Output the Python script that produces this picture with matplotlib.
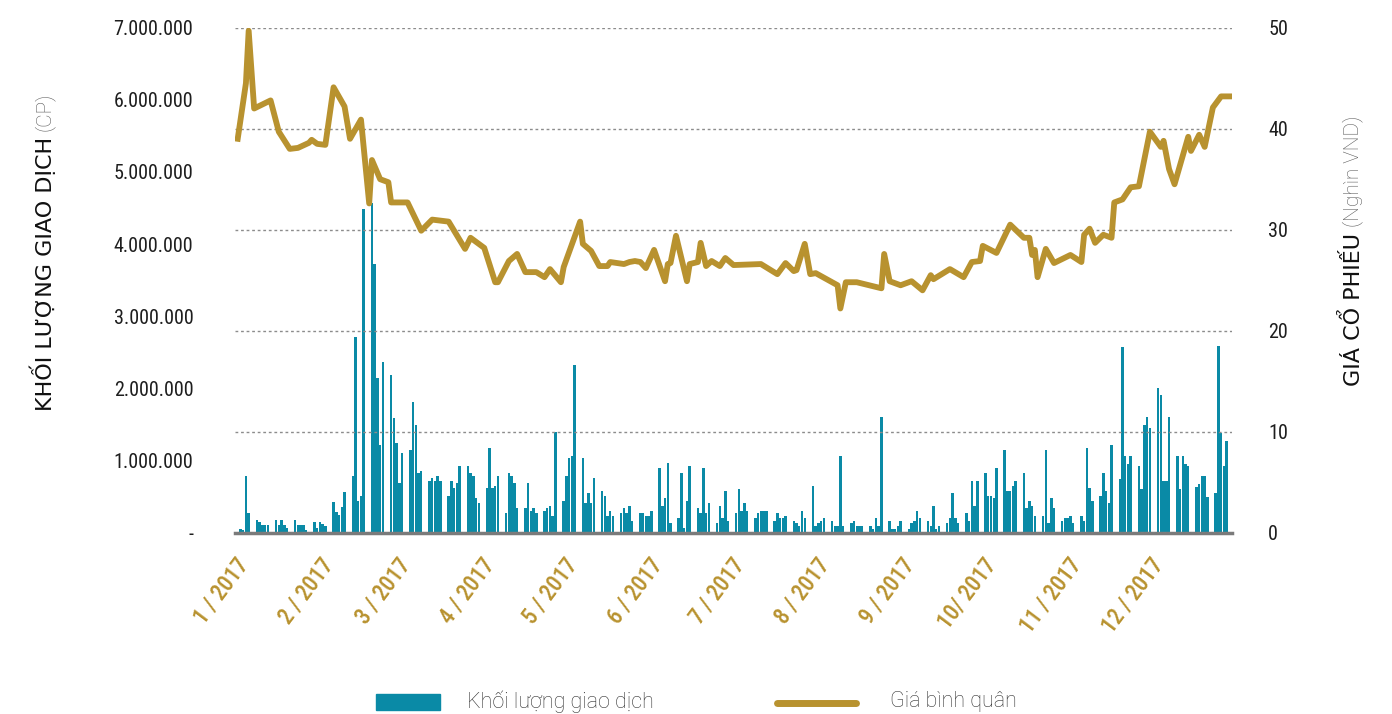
import numpy as np
import pandas as pd
import matplotlib
matplotlib.use('Agg')
import matplotlib.pyplot as plt
from matplotlib.patches import Rectangle
from matplotlib.lines import Line2D
from matplotlib.ticker import FuncFormatter

# Khối lượng giao dịch từng phiên (triệu cp), theo tháng
kl_t1 = [0.05, 0.04, 0.78, 0.28, 0.18, 0.15, 0.11, 0.11, 0.11, 0.18, 0.11, 0.18, 0.11, 0.07, 0.18, 0.11, 0.11, 0.11, 0.04, 0.15, 0.07]
kl_t2 = [0.15, 0.12, 0.09, 0.43, 0.29, 0.25, 0.36, 0.57, 0.79, 2.71, 0.44, 0.51, 4.49, 4.57, 3.72, 2.15, 1.21, 2.36, 2.19, 1.59]
kl_t3 = [1.25, 0.69, 1.10, 1.14, 1.81, 1.49, 0.83, 0.86, 0.72, 0.76, 0.72, 0.79, 0.72, 0.51, 0.72, 0.62, 0.69, 0.93, 0.93, 0.83, 0.79, 0.48, 0.41]
kl_t4 = [0.62, 1.17, 0.62, 0.65, 0.79, 0.27, 0.83, 0.79, 0.69, 0.34, 0.34, 0.69, 0.30, 0.34, 0.27, 0.30, 0.34, 0.37, 0.23, 1.39]
kl_t5 = [0.44, 0.79, 1.04, 1.07, 2.33, 1.04, 0.41, 0.55, 0.41, 0.76, 0.58, 0.51, 0.23, 0.30, 0.23, 0.27, 0.34, 0.27, 0.37, 0.16, 0.27, 0.27, 0.23]
kl_t6 = [0.23, 0.30, 0.90, 0.37, 0.48, 0.97, 0.13, 0.20, 0.83, 0.06, 0.44, 0.93, 0.34, 0.27, 0.90, 0.27, 0.41, 0.13, 0.37, 0.20, 0.58, 0.16]
kl_t7 = [0.27, 0.61, 0.30, 0.41, 0.30, 0.20, 0.27, 0.30, 0.30, 0.30, 0.16, 0.27, 0.20, 0.20, 0.23, 0.16, 0.13, 0.09, 0.30, 0.20, 0.65]
kl_t8 = [0.09, 0.13, 0.16, 0.20, 0.16, 0.09, 0.09, 1.07, 0.09, 0.13, 0.16, 0.09, 0.09, 0.09, 0.09, 0.05, 0.20, 0.09, 1.60, 0.16, 0.05, 0.05, 0.09]
kl_t9 = [0.16, 0.05, 0.13, 0.16, 0.30, 0.20, 0.16, 0.09, 0.37, 0.05, 0.09, 0.13, 0.20, 0.55, 0.20, 0.13, 0.27, 0.16, 0.72, 0.37, 0.72]
kl_t10 = [0.83, 0.51, 0.51, 0.48, 0.90, 1.14, 0.58, 0.58, 0.65, 0.72, 0.83, 0.34, 0.44, 0.37, 0.23, 0.23, 1.14, 0.13, 0.48, 0.34, 0.16, 0.20]
kl_t11 = [0.20, 0.23, 0.13, 0.23, 0.16, 1.17, 0.62, 0.44, 0.51, 0.83, 0.58, 0.41, 1.21, 0.75, 2.57, 1.06, 0.95, 1.06, 0.92, 0.60, 1.49, 1.60]
kl_t12 = [1.45, 2.01, 1.91, 0.71, 0.71, 1.60, 1.06, 0.60, 1.06, 0.95, 0.92, 0.64, 0.67, 0.78, 0.78, 0.50, 0.55, 2.59, 1.38, 0.92, 1.27]

# Giá bình quân (nghìn VND)
ngay_gia = ['2017-01-02', '2017-01-05', '2017-01-06', '2017-01-08', '2017-01-14', '2017-01-17',
            '2017-01-21', '2017-01-24', '2017-01-28', '2017-01-29', '2017-01-31', '2017-02-03',
            '2017-02-06', '2017-02-10', '2017-02-12', '2017-02-16', '2017-02-19', '2017-02-20',
            '2017-02-23', '2017-02-26', '2017-02-27', '2017-03-05', '2017-03-10', '2017-03-14',
            '2017-03-20', '2017-03-26', '2017-03-28', '2017-04-02', '2017-04-06', '2017-04-07',
            '2017-04-11', '2017-04-14', '2017-04-17', '2017-04-21', '2017-04-24', '2017-04-26',
            '2017-04-30', '2017-05-01', '2017-05-07', '2017-05-08', '2017-05-11', '2017-05-14',
            '2017-05-17', '2017-05-18', '2017-05-23', '2017-05-25', '2017-05-27', '2017-05-29',
            '2017-05-31', '2017-06-03', '2017-06-07', '2017-06-08', '2017-06-09', '2017-06-11',
            '2017-06-15', '2017-06-16', '2017-06-19', '2017-06-20', '2017-06-22', '2017-06-24',
            '2017-06-27', '2017-06-29', '2017-07-02', '2017-07-12', '2017-07-18', '2017-07-21',
            '2017-07-24', '2017-07-25', '2017-07-28', '2017-07-30', '2017-08-01', '2017-08-09',
            '2017-08-10', '2017-08-12', '2017-08-16', '2017-08-25', '2017-08-26', '2017-08-28',
            '2017-09-01', '2017-09-05', '2017-09-09', '2017-09-12', '2017-09-13', '2017-09-19',
            '2017-09-24', '2017-09-27', '2017-09-30', '2017-10-01', '2017-10-06', '2017-10-11',
            '2017-10-16', '2017-10-18', '2017-10-19', '2017-10-20', '2017-10-21', '2017-10-24',
            '2017-10-27', '2017-11-02', '2017-11-06', '2017-11-07', '2017-11-09', '2017-11-11',
            '2017-11-14', '2017-11-17', '2017-11-18', '2017-11-21', '2017-11-24', '2017-11-27',
            '2017-12-01', '2017-12-05', '2017-12-06', '2017-12-08', '2017-12-10', '2017-12-15',
            '2017-12-16', '2017-12-19', '2017-12-21', '2017-12-24', '2017-12-27', '2017-12-30']
gia = [39.0, 44.5, 49.7, 42.0, 42.8, 39.7,
       38.0, 38.1, 38.6, 38.9, 38.5, 38.4,
       44.1, 42.2, 39.0, 40.9, 32.6, 36.9,
       35.0, 34.7, 32.7, 32.7, 29.9, 31.0,
       30.8, 28.1, 29.2, 28.2, 24.8, 24.8,
       26.9, 27.6, 25.8, 25.8, 25.3, 26.1,
       24.8, 26.3, 30.8, 28.6, 27.9, 26.4,
       26.4, 26.8, 26.6, 26.8, 26.9, 26.8,
       26.2, 28.0, 24.9, 26.6, 26.7, 29.4,
       24.9, 26.6, 26.8, 28.7, 26.4, 26.9,
       26.4, 27.2, 26.5, 26.6, 25.6, 26.7,
       25.9, 26.0, 28.6, 25.6, 25.7, 24.5,
       22.2, 24.8, 24.8, 24.2, 27.6, 24.9,
       24.5, 24.9, 24.0, 25.5, 25.1, 26.1,
       25.3, 26.8, 26.9, 28.4, 27.7, 30.5,
       29.2, 29.2, 27.5, 28.0, 25.3, 28.1,
       26.7, 27.5, 26.8, 29.5, 30.1, 28.7,
       29.5, 29.2, 32.7, 33.0, 34.2, 34.3,
       39.7, 38.2, 38.8, 36.0, 34.5, 39.2,
       37.8, 39.4, 38.2, 42.1, 43.2, 43.2]

thang = ['1 / 2017', '2 / 2017', '3 / 2017', '4 / 2017', '5 / 2017', '6 / 2017',
         '7 / 2017', '8 / 2017', '9 / 2017', '10/ 2017', '11 / 2017', '12 / 2017']

XANH = '#0A8AA6'
VANG = '#B8922F'
HEP = ['Roboto Condensed', 'Roboto', 'DejaVu Sans']

phien = pd.bdate_range('2017-01-03', '2017-12-29')
kl = np.concatenate([kl_t1, kl_t2, kl_t3, kl_t4, kl_t5, kl_t6,
                     kl_t7, kl_t8, kl_t9, kl_t10, kl_t11, kl_t12]) * 1e6
ngay = pd.to_datetime(ngay_gia)

fig = plt.figure(figsize=(13.92, 7.14), dpi=100)
ax = fig.add_axes([0.1688, 0.2539, 0.7163, 0.7073])
ax2 = ax.twinx()

ax.bar(phien, kl, width=0.9, color=XANH, zorder=2)
ax2.plot(ngay, gia, color=VANG, lw=4.2, zorder=3)

ax.set_xlim(pd.Timestamp('2017-01-01'), pd.Timestamp('2017-12-31'))
ax.set_ylim(0, 7e6)
ax2.set_ylim(0, 50)

ax.set_yticks(np.arange(0, 7e6 + 1, 1e6))
ax.yaxis.set_major_formatter(FuncFormatter(
    lambda v, p: '-' if v == 0 else f'{int(v):,}'.replace(',', '.')))
ax2.set_yticks(np.arange(0, 51, 10))

ax.set_xticks(pd.date_range('2017-01-01', periods=12, freq='MS'))
ax.set_xticklabels(thang, rotation=53, ha='right', rotation_mode='anchor',
                   color=VANG, fontsize=16.5, fontweight='medium', family=HEP)
ax.tick_params(axis='x', length=0, pad=15)
ax.tick_params(axis='y', length=0, pad=30, labelsize=14.5, labelcolor='#1e1e1e')
ax2.tick_params(axis='y', length=0, pad=26, labelsize=14.5, labelcolor='#1e1e1e')
for t in ax.get_yticklabels() + ax2.get_yticklabels():
    t.set_family(HEP)

ax2.yaxis.grid(True, linestyle=(0, (2, 2)), color='#8c8c8c', lw=1)
for a in (ax, ax2):
    for s in a.spines.values():
        s.set_visible(False)
ax.spines['bottom'].set_visible(True)
ax.spines['bottom'].set_color('#7a7a7a')
ax.spines['bottom'].set_linewidth(2.5)

# tiêu đề trục
W, H = 1392, 714
t1 = fig.text(43 / W, (H - 411) / H, 'KHỐI LƯỢNG GIAO DỊCH', rotation=90,
              ha='center', va='bottom', fontsize=16, color='#111111')
t2 = fig.text(1352 / W, (H - 386) / H, 'GIÁ CỔ PHIẾU', rotation=90,
              ha='center', va='bottom', fontsize=16, color='#111111')
fig.canvas.draw()
for t, phu in ((t1, '(CP)'), (t2, '(Nghìn VND)')):
    bb = t.get_window_extent()
    fig.text(t.get_position()[0] + 1 / W, (bb.y1 + 6) / H, phu, rotation=90,
             ha='center', va='bottom', fontsize=15, color='#5a5a5a',
             family=['Roboto', 'DejaVu Sans'], fontweight='light')

# chú thích
fig.add_artist(Rectangle((376 / W, (H - 710) / H), 64 / W, 16 / H,
                         transform=fig.transFigure, color=XANH))
fig.text(467 / W, (H - 702) / H, 'Khối lượng giao dịch', va='center',
         fontsize=15.5, color='#333333', family=['Roboto', 'DejaVu Sans'],
         fontweight='light')
fig.add_artist(Line2D([777 / W, 856 / W], [(H - 703) / H] * 2, lw=5,
                      color=VANG, solid_capstyle='round',
                      transform=fig.transFigure))
fig.text(890 / W, (H - 702) / H, 'Giá bình quân', va='center',
         fontsize=15.5, color='#333333', family=['Roboto', 'DejaVu Sans'],
         fontweight='light')

fig.savefig('out.png', dpi=100)
